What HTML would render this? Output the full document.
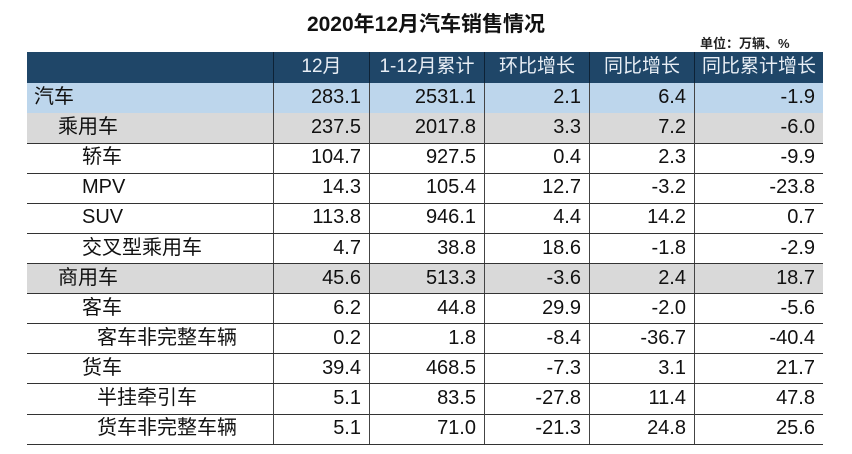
<!DOCTYPE html>
<html><head><meta charset="utf-8">
<style>
body{margin:0;width:852px;height:454px;background:#fff;position:relative;overflow:hidden;font-family:"Liberation Sans","Noto Sans CJK SC",sans-serif;}
#title{position:absolute;left:0;width:852px;top:8px;text-align:center;font-size:21px;font-weight:bold;color:#111;}
#unit{position:absolute;left:700px;top:33px;font-size:13px;font-weight:bold;color:#222;}
.row{position:absolute;left:27px;width:796px;height:30px;border-bottom:1.5px solid #333;box-sizing:border-box;}
.c{position:absolute;top:0;height:100%;box-sizing:border-box;font-size:20px;line-height:28px;color:#111;border-left:1.5px solid #444;text-align:right;padding-right:8px;}
.name{position:absolute;top:0;height:100%;font-size:20px;line-height:28px;color:#111;}
.hdr{background:#1f4668;border-bottom:none;}
.hdr .c{color:#e8eef5;text-align:center;padding:0;border-left:1.5px solid #0d2236;font-size:19px;}
.blue{background:#bdd6ec;}
.gray{background:#d9d9d9;}
</style></head><body>
<div id="title">2020年12月汽车销售情况</div>
<div id="unit">单位：万辆、%</div>
<div id="tbl"></div>
<script>
const colEdges=[27,273,369,484,589,694,823];
const headers=["12月","1-12月累计","环比增长","同比增长","同比累计增长"];
const names=["汽车","乘用车","轿车","MPV","SUV","交叉型乘用车","商用车","客车","客车非完整车辆","货车","半挂牵引车","货车非完整车辆"];
const indents=[0,1,2,2,2,2,1,2,3,2,3,3];
const styles=["blue","gray","","","","","gray","","","","",""];
const dec=["283.1","237.5","104.7","14.3","113.8","4.7","45.6","6.2","0.2","39.4","5.1","5.1"];
const cum=["2531.1","2017.8","927.5","105.4","946.1","38.8","513.3","44.8","1.8","468.5","83.5","71.0"];
const mom=["2.1","3.3","0.4","12.7","4.4","18.6","-3.6","29.9","-8.4","-7.3","-27.8","-21.3"];
const yoy=["6.4","7.2","2.3","-3.2","14.2","-1.8","2.4","-2.0","-36.7","3.1","11.4","24.8"];
const ytd=["-1.9","-6.0","-9.9","-23.8","0.7","-2.9","18.7","-5.6","-40.4","21.7","47.8","25.6"];
const indentPx=[7,31,55,70];
const tbl=document.getElementById('tbl');
function mkRow(top,h,cls){const r=document.createElement('div');r.className='row '+cls;r.style.top=top+'px';r.style.height=h+'px';tbl.appendChild(r);return r;}
const hr=mkRow(52,31,'hdr');


headers.forEach((h,i)=>{const c=document.createElement('div');c.className='c';c.style.left=(colEdges[i+1]-27)+'px';c.style.width=(colEdges[i+2]-colEdges[i+1])+'px';c.style.lineHeight='30px';c.textContent=h;


hr.appendChild(c);});
names.forEach((n,r)=>{
 const row=mkRow(83+r*30.1,30.5,styles[r]);
 
 
 const nm=document.createElement('div');nm.className='name';nm.style.left=indentPx[indents[r]]+'px';nm.textContent=n;
 
 
 row.appendChild(nm);
 [dec,cum,mom,yoy,ytd].forEach((arr,i)=>{const c=document.createElement('div');c.className='c';c.style.left=(colEdges[i+1]-27)+'px';c.style.width=(colEdges[i+2]-colEdges[i+1])+'px';c.textContent=arr[r];
 
 
 row.appendChild(c);});
});
</script>
</body></html>
